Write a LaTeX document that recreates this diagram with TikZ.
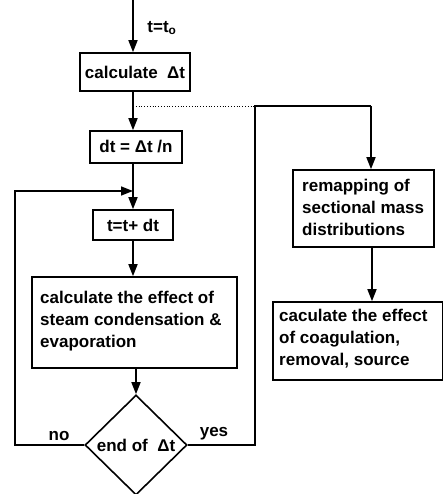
\documentclass[tikz,border=0pt]{standalone}
\usepackage{fontspec}
\setmainfont{Liberation Sans}
\usetikzlibrary{shapes.geometric,arrows.meta}
\begin{document}
\begin{tikzpicture}[x=1pt,y=-1pt,
  every node/.style={font=\fontsize{17}{22}\selectfont\bfseries},
  box/.style={draw,line width=1.6pt,inner sep=0pt,align=center},
  dec/.style={draw,diamond,line width=1.6pt,inner sep=0pt,minimum width=102pt,minimum height=100pt},
  conn/.style={line width=1.6pt},
  arr/.style={conn,-{Triangle[length=12pt,width=9pt]}},
  lab/.style={inner sep=0pt}]
\useasboundingbox (0,0) rectangle (443,494);
\node[box,minimum width=110pt,minimum height=38pt] (calc) at (135,72) {calculate\ \ Δt};
\node[box,minimum width=92pt,minimum height=32pt] (dt) at (136,147) {dt = Δt /n};
\node[box,minimum width=80pt,minimum height=30pt] (tt) at (133,225) {t=t+ dt};
\node[box,minimum width=205pt,minimum height=91pt] (big) at (134.5,322.5) {};
\node[lab,anchor=west,align=left] (bigt) at (40,321) {calculate the effect of\\steam condensation \&\\evaporation};
\node[dec] (dia) at (136,445) {end of\ \ Δt};
\node[box,minimum width=141pt,minimum height=77pt] (remap) at (363.5,208.5) {};
\node[lab,anchor=west,align=left] (remapt) at (302,207) {remapping of\\sectional mass\\distributions};
\node[box,minimum width=170pt,minimum height=78pt] (coag) at (358,341) {};
\node[lab,anchor=west,align=left] (coagt) at (279,339) {caculate the effect\\of coagulation,\\removal, source};
\node[lab] (to) at (162,28) {t=t\textsubscript{o}};
\node[lab] (no) at (59,436) {no};
\node[lab] (yes) at (214,434) {yes};
\coordinate (start) at (133,0);
\coordinate (j1) at (133,106);
\coordinate (j2) at (255,106);
\coordinate (j3) at (255,445);
\coordinate (j4) at (371,106);
\coordinate (l1) at (15,445);
\coordinate (l2) at (15,191);
\coordinate (l3) at (133,191);
\draw[arr] (start) -- (start|-calc.north);
\draw[arr] (calc.south-|j1) -- (j1|-dt.north);
\draw[dotted,line width=0.8pt] (j1) -- (j2);
\draw[arr] (dt.south-|l3) -- (l3|-tt.north);
\draw[arr] (tt.south) -- (tt.south|-big.north);
\draw[arr] (big.south-|dia.north) -- (dia.north);
\draw[arr] (dia.west) -- (l1) -- (l2) -- (l3);
\draw[conn] (dia.east) -- (j3) -- (j2) -- (j4);
\draw[arr] (j4) -- (j4|-remap.north);
\draw[arr] (remap.south-|372,0) -- (coag.north-|372,0);
\end{tikzpicture}
\end{document}
